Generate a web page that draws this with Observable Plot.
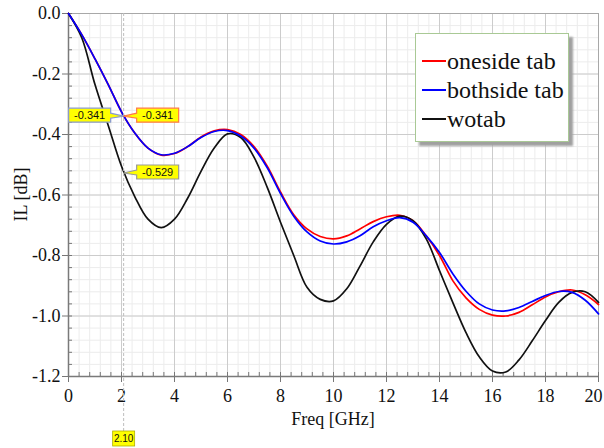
<!DOCTYPE html>
<html>
<head>
<meta charset="utf-8">
<script src="https://cdn.jsdelivr.net/npm/d3@7"></script>
<script src="https://cdn.jsdelivr.net/npm/@observablehq/plot@0.6"></script>
<style>
  body { margin: 0; background: #fff; }
  #wrap { position: relative; width: 604px; height: 448px; overflow: hidden; }
  .legend { position: absolute; left: 415px; top: 33px; width: 152px; height: 107px; background: #fff;
            border: 1px solid #a9c995; box-shadow: 4px 4px 2px #a0a0a0;
            font-family: "Liberation Serif", "Times New Roman", serif; font-size: 24px; color: #111; }
  .legend .row { position: absolute; left: 0; height: 28px; line-height: 28px; white-space: nowrap; }
  .legend .sw { position: absolute; left: 6px; top: 13px; width: 24px; height: 2px; }
  .legend .lbl { position: absolute; left: 31px; top: 0; }
</style>
</head>
<body>
<div id="wrap"></div>
<script>
// ---- data ----
const freq = [0,0.5,1,1.5,2,2.5,3,3.5,4,4.5,5,5.5,6,6.5,7,7.5,8,8.5,9,9.5,10,
              10.5,11,11.5,12,12.5,13,13.5,14,14.5,15,15.5,16,16.5,17,17.5,18,18.5,19,19.5,20];
const oneside = [0,-0.07,-0.15,-0.235,-0.325,-0.395,-0.445,-0.468,-0.463,-0.44,-0.408,-0.388,-0.384,-0.40,-0.44,-0.505,-0.59,-0.665,-0.712,-0.737,-0.745,
                 -0.735,-0.712,-0.688,-0.672,-0.667,-0.685,-0.735,-0.80,-0.883,-0.94,-0.978,-0.997,-1.0,-0.988,-0.963,-0.937,-0.92,-0.914,-0.93,-0.962];
const bothside = [0,-0.07,-0.15,-0.235,-0.325,-0.395,-0.445,-0.467,-0.462,-0.44,-0.41,-0.39,-0.387,-0.405,-0.445,-0.51,-0.595,-0.67,-0.722,-0.752,-0.762,
                  -0.755,-0.735,-0.705,-0.685,-0.675,-0.69,-0.735,-0.79,-0.86,-0.918,-0.96,-0.98,-0.983,-0.972,-0.952,-0.932,-0.919,-0.922,-0.948,-0.993];
const wotab = [0,-0.08,-0.235,-0.37,-0.505,-0.605,-0.68,-0.708,-0.68,-0.61,-0.522,-0.445,-0.398,-0.41,-0.475,-0.575,-0.69,-0.80,-0.905,-0.945,-0.95,
               -0.91,-0.835,-0.755,-0.697,-0.67,-0.685,-0.745,-0.85,-0.955,-1.055,-1.135,-1.182,-1.185,-1.145,-1.082,-1.015,-0.955,-0.922,-0.92,-0.955];
const seriesNames = ["oneside tab", "bothside tab", "wotab"];
const seriesColors = ["#ff0000", "#0000ff", "#111111"];
const xTicks = [0,2,4,6,8,10,12,14,16,18,20];
const yTicks = [0,-0.2,-0.4,-0.6,-0.8,-1.0,-1.2];
const markerFreq = 2.1;
const markerFreqLabel = "2.10";
const markerValues = [-0.341, -0.341, -0.529];   // bothside, oneside, wotab
const markerTexts = ["-0.341", "-0.341", "-0.529"];

// ---- build table ----
const seriesValues = [oneside, bothside, wotab];
const rows = [];
seriesNames.forEach((name, i) => freq.forEach((f, j) => rows.push({series: name, freq: f, il: seriesValues[i][j]})));
const xMinor = d3.range(0, 20.0001, 0.4);
const yMinor = d3.range(0, 31).map(i => -i * 0.04);

const serif = "'Liberation Serif','Times New Roman',serif";
const lineMark = (name, color) => Plot.line(rows.filter(r => r.series === name),
  {x: "freq", y: "il", stroke: color, strokeWidth: 1.7, curve: "catmull-rom"});

const chart = Plot.plot({
  width: 604, height: 448,
  marginLeft: 68, marginRight: 6, marginTop: 13, marginBottom: 72,
  style: {fontFamily: serif, fontSize: "18px", background: "white", overflow: "visible"},
  x: {domain: [0, 20]},
  y: {domain: [-1.2, 0]},
  marks: [
    Plot.ruleX(xMinor, {stroke: "#ececec", strokeWidth: 1}),
    Plot.ruleY(yMinor, {stroke: "#ececec", strokeWidth: 1}),
    Plot.ruleX(xTicks, {stroke: "#cccccc", strokeWidth: 1}),
    Plot.ruleY(yTicks, {stroke: "#cccccc", strokeWidth: 1}),
    Plot.frame({stroke: "#a8a8a8"}),
    Plot.axisX({ticks: xMinor, tickSize: -4, tickFormat: () => "", label: null, stroke: "#777"}),
    Plot.axisY({ticks: yMinor, tickSize: -4, tickFormat: () => "", label: null, stroke: "#777"}),
    Plot.axisX({ticks: xTicks, tickSize: 6, tickPadding: 7, tickFormat: d => String(d), label: null,
                stroke: "#777", fill: "#111", fontSize: 18}),
    Plot.axisY({ticks: yTicks, tickSize: 6, tickPadding: 2, tickFormat: d => d.toFixed(1), label: null,
                stroke: "#777", fill: "#111", fontSize: 18}),
    Plot.ruleX([0], {stroke: "#7a7a7a", strokeWidth: 1.5}),
    Plot.ruleY([-1.2], {stroke: "#7a7a7a", strokeWidth: 1.5}),
    lineMark("oneside tab", seriesColors[0]),
    lineMark("wotab", seriesColors[2]),
    lineMark("bothside tab", seriesColors[1])
  ]
});

document.getElementById("wrap").appendChild(chart);

// serif tick labels; keep the last x tick label inside the picture
d3.select(chart).selectAll("text").attr("font-family", serif);
d3.select(chart).selectAll("text").filter(function() { return this.textContent === "20"; })
  .attr("text-anchor", "end").attr("dx", 4);

// ---- annotations positioned via Plot's scales ----
const sx = chart.scale("x"), sy = chart.scale("y");
const X = v => sx.apply(v), Y = v => sy.apply(v);
const svg = d3.select(chart);
const [yBottom, yTop] = [Y(-1.2), Y(0)];
const px = X(markerFreq);

svg.append("line").attr("x1", px).attr("x2", px).attr("y1", yTop).attr("y2", 431)
  .attr("stroke", "#bdbdbd").attr("stroke-dasharray", "3,2").attr("stroke-width", 1);

function callout(pyVal, text, side, border) {
  const py = Y(pyVal);
  const w = 42, h = 14, gap = 13;
  const g = svg.append("g");
  let pts, x0, x1;
  const y0 = py - 8, y1 = y0 + h;
  if (side === "left") {
    x1 = px - gap; x0 = x1 - w;
    pts = [[x0, y0], [x1, y0], [x1, py - 3], [px, py], [x1, py + 2], [x1, y1], [x0, y1]];
  } else {
    x0 = px + gap; x1 = x0 + w;
    pts = [[x0, y0], [x1, y0], [x1, y1], [x0, y1], [x0, py + 2], [px, py], [x0, py - 3]];
  }
  g.append("polygon").attr("points", pts.map(p => p.join(",")).join(" "))
    .attr("fill", "#ffff00").attr("stroke", border).attr("stroke-width", 1.2);
  g.append("text").attr("x", (x0 + x1) / 2).attr("y", (y0 + y1) / 2).attr("dy", "0.35em")
    .attr("text-anchor", "middle").attr("font-family", "'Liberation Sans',Arial,sans-serif")
    .attr("font-size", 11).attr("fill", "#111").text(text);
}
callout(markerValues[0], markerTexts[0], "left", "#8a9bd0");
callout(markerValues[1], markerTexts[1], "right", "#ff7b45");
callout(markerValues[2], markerTexts[2], "right", "#9a9a9a");

// x marker label below axis
svg.append("rect").attr("x", px - 11).attr("y", 431).attr("width", 22).attr("height", 15)
  .attr("fill", "#ffff00").attr("stroke", "#b0b000").attr("stroke-width", 0.8);
svg.append("text").attr("x", px).attr("y", 438.5).attr("dy", "0.35em").attr("text-anchor", "middle")
  .attr("font-family", "'Liberation Sans',Arial,sans-serif").attr("font-size", 10).attr("fill", "#111")
  .text(markerFreqLabel);

// axis titles
const [xr0, xr1] = sx.range;
svg.append("text").attr("x", (xr0 + xr1) / 2).attr("y", 425).attr("text-anchor", "middle")
  .attr("font-family", serif).attr("font-size", 18).attr("fill", "#111").text("Freq [GHz]");
svg.append("text").attr("transform", `translate(21,${(yTop + yBottom) / 2}) rotate(-90)`)
  .attr("text-anchor", "middle").attr("dy", "0.35em")
  .attr("font-family", serif).attr("font-size", 18).attr("fill", "#111").text("IL [dB]");

// legend
const legend = document.createElement("div");
legend.className = "legend";
seriesNames.forEach((name, i) => {
  const row = document.createElement("div");
  row.className = "row";
  row.style.top = (13 + i * 29) + "px";
  row.innerHTML = `<span class="sw" style="background:${seriesColors[i]}"></span><span class="lbl">${name}</span>`;
  legend.appendChild(row);
});
document.getElementById("wrap").appendChild(legend);
</script>
</body>
</html>
